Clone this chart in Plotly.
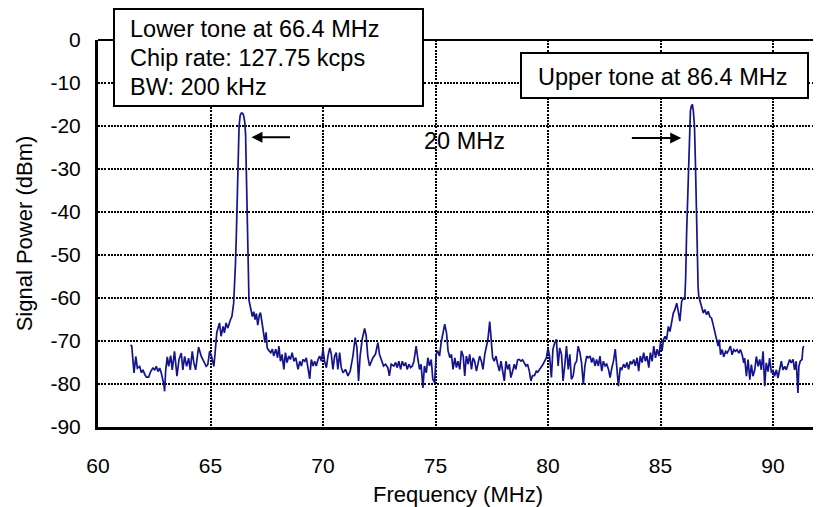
import plotly.graph_objects as go

# ---------------- data ----------------
freq_mhz = [
    61.45, 61.50, 61.60, 61.68, 61.75, 61.85, 61.93, 62.00, 62.08, 62.15,
    62.25, 62.34, 62.44, 62.52, 62.59, 62.67, 62.74, 62.81, 62.93, 62.96,
    63.01, 63.08, 63.14, 63.23, 63.30, 63.40, 63.51, 63.60, 63.70, 63.77,
    63.85, 63.94, 64.03, 64.10, 64.19, 64.26, 64.34, 64.41, 64.47, 64.59,
    64.70, 64.81, 64.88, 64.96, 65.03, 65.15, 65.21, 65.28, 65.40, 65.47,
    65.56, 65.62, 65.69, 65.77, 65.89, 65.95, 66.03,
    66.08, 66.11, 66.15, 66.19, 66.23, 66.27, 66.32, 66.37, 66.42, 66.47,
    66.52, 66.56, 66.59, 66.63, 66.67, 66.71,
    66.75, 66.80, 66.86, 66.92, 66.98, 67.04, 67.10, 67.17, 67.22, 67.27,
    67.34, 67.42, 67.47, 67.52,
    67.61, 67.68, 67.75, 67.81, 67.90, 67.98, 68.04, 68.11, 68.18, 68.26,
    68.33, 68.40, 68.48, 68.55, 68.63, 68.71, 68.79, 68.89, 68.97, 69.04,
    69.11, 69.19, 69.26, 69.34, 69.41, 69.48, 69.56, 69.63, 69.70, 69.78,
    69.85, 69.93, 70.00, 70.07, 70.15, 70.22, 70.30, 70.37, 70.44, 70.52,
    70.59, 70.66, 70.74, 70.81, 70.89, 71.00, 71.11, 71.21, 71.33, 71.43,
    71.51, 71.58, 71.65, 71.74, 71.85, 71.92, 71.99, 72.07, 72.14, 72.22,
    72.33, 72.44, 72.51, 72.58, 72.69, 72.78, 72.88, 72.95, 73.03,
    73.15, 73.23, 73.30, 73.37, 73.45, 73.52, 73.60, 73.67, 73.74, 73.82,
    73.89, 73.97, 74.04, 74.14, 74.22, 74.29, 74.36, 74.44, 74.51, 74.59,
    74.66, 74.73, 74.81, 74.88, 74.96, 75.03, 75.10, 75.18, 75.25, 75.34,
    75.41, 75.49, 75.56, 75.64, 75.71, 75.78, 75.86, 75.93, 76.00, 76.08,
    76.15, 76.23, 76.30, 76.37, 76.45, 76.52, 76.60, 76.67, 76.74, 76.82,
    76.89, 76.96, 77.04, 77.11, 77.19, 77.26, 77.33, 77.41, 77.47, 77.54,
    77.61, 77.69, 77.76, 77.84, 77.91, 77.98, 78.06, 78.13, 78.21, 78.28,
    78.35, 78.43, 78.50, 78.57, 78.65, 78.72, 78.80, 78.87, 78.94, 79.02,
    79.09, 79.17, 79.24, 79.31,
    79.40, 79.48, 79.55, 79.63, 79.70, 79.78, 79.85, 79.93, 80.00, 80.07,
    80.15, 80.22, 80.30, 80.37, 80.45, 80.52, 80.60, 80.67, 80.75, 80.82,
    80.90, 80.97, 81.04, 81.12, 81.19, 81.27, 81.34, 81.42, 81.49, 81.57,
    81.64, 81.72, 81.79, 81.87, 81.94, 82.01, 82.09, 82.16, 82.24, 82.31,
    82.39, 82.46, 82.54, 82.61, 82.69, 82.76, 82.84, 82.91, 82.99, 83.06,
    83.13, 83.21, 83.28, 83.36, 83.43, 83.51, 83.58, 83.66, 83.73, 83.81,
    83.88, 83.96, 84.03, 84.10, 84.18, 84.25, 84.33, 84.40, 84.48, 84.55,
    84.63, 84.70, 84.78, 84.85, 84.93, 85.00, 85.07,
    85.13, 85.20, 85.27, 85.35, 85.42, 85.49, 85.57, 85.64, 85.72, 85.79,
    85.86, 85.94, 86.01, 86.08,
    86.12, 86.16, 86.20, 86.24, 86.29, 86.33, 86.38, 86.42, 86.46, 86.51,
    86.55, 86.59, 86.63, 86.67, 86.70, 86.75,
    86.82, 86.90, 86.97, 87.05, 87.12, 87.19, 87.27, 87.34, 87.42, 87.49,
    87.56, 87.61, 87.67, 87.74, 87.81, 87.89, 87.96, 88.04, 88.11, 88.18,
    88.26, 88.33, 88.40, 88.48, 88.55, 88.63, 88.70, 88.74, 88.82, 88.89,
    88.97, 89.04, 89.11, 89.19, 89.26, 89.34, 89.41, 89.48, 89.56, 89.63,
    89.70, 89.78, 89.85, 89.93, 90.00, 90.07, 90.15, 90.22, 90.30, 90.37,
    90.44, 90.52, 90.59, 90.66, 90.74, 90.81, 90.89, 90.96, 91.03, 91.11,
    91.15, 91.21, 91.29, 91.33, 91.37,
]

power_dbm = [
    -70.9, -71.2, -77.4, -73.6, -76.3, -75.9, -77.4, -76.7, -77.8, -78.4,
    -78.4, -77.1, -76.3, -76.7, -75.9, -77.1, -76.3, -77.4, -80.2, -81.7,
    -76.7, -73.7, -75.9, -73.4, -76.7, -72.4, -78.2, -74.3, -72.8, -76.7,
    -73.6, -75.9, -74.0, -76.7, -72.4, -75.1, -76.7, -74.0, -71.4, -73.6,
    -74.7, -75.9, -75.5, -72.4, -73.2, -75.9, -72.4, -68.0, -65.8, -68.9,
    -66.6, -68.1, -65.8, -67.0, -65.0, -64.3, -61.2,
    -57.0, -52.0, -45.0, -38.0, -28.0, -20.0, -17.5, -17.0, -17.0, -17.5,
    -19.0, -22.0, -30.0, -38.0, -50.0, -60.5,
    -61.5, -63.2, -64.3, -63.2, -65.0, -63.6, -66.3, -64.0, -63.4, -65.0,
    -67.3, -70.4, -68.0, -71.6,
    -72.3, -72.7, -71.9, -73.5, -71.9, -73.9, -71.2, -74.7, -73.1, -76.6,
    -72.7, -75.0, -73.5, -74.3, -72.7, -74.7, -73.9, -76.6, -74.7, -75.8,
    -74.3, -74.7, -73.9, -76.6, -78.8, -74.3, -75.8, -74.7, -75.8, -74.3,
    -73.5, -74.7, -71.9, -74.7, -76.2, -73.5, -71.6, -73.1, -76.6, -73.5,
    -72.7, -76.6, -72.7, -76.2, -77.4, -76.6, -78.1, -77.0, -73.5, -69.2,
    -71.6, -79.3, -73.5, -69.6, -67.1, -68.8, -73.5, -75.8, -75.0, -73.9,
    -73.1, -70.4, -73.1, -74.3, -75.8, -75.4, -76.2, -78.1, -75.4,
    -75.8, -75.0, -76.2, -74.7, -76.6, -74.7, -75.8, -75.0, -76.6, -75.4,
    -76.2, -75.8, -74.7, -71.2, -74.3, -76.6, -75.4, -80.9, -75.8, -77.4,
    -73.9, -75.8, -74.3, -78.9, -79.7, -73.1, -72.3, -73.5, -70.4, -67.7,
    -66.1, -68.1, -72.3, -73.9, -73.1, -76.6, -73.9, -76.2, -74.7, -76.6,
    -72.3, -73.5, -78.1, -73.5, -75.4, -73.1, -76.6, -73.9, -74.7, -77.0,
    -75.4, -73.5, -74.7, -76.6, -73.1, -71.2, -69.6, -65.5, -68.8, -73.9,
    -74.7, -73.5, -75.4, -77.0, -74.7, -77.4, -79.3, -74.7, -76.6, -75.4,
    -78.5, -77.0, -75.4, -76.6, -74.4, -74.3, -74.7, -74.4, -75.0, -75.8,
    -75.4, -77.0, -79.3, -78.1,
    -78.0, -77.0, -77.2, -76.6, -76.2, -75.4, -74.7, -73.9, -71.6, -73.5,
    -78.5, -71.9, -70.4, -69.6, -75.8, -71.6, -73.1, -79.3, -75.4, -71.2,
    -76.6, -73.1, -78.9, -78.1, -75.4, -74.7, -71.2, -72.7, -75.0, -80.1,
    -75.8, -73.5, -73.9, -73.5, -75.0, -73.9, -75.8, -74.3, -75.8, -73.5,
    -77.0, -74.7, -75.8, -75.4, -76.6, -78.5, -76.2, -74.7, -71.9, -75.8,
    -80.5, -76.2, -76.6, -75.4, -76.2, -75.0, -76.6, -74.7, -75.4, -74.3,
    -75.8, -73.9, -77.0, -73.5, -75.0, -72.7, -74.7, -73.5, -76.2, -72.7,
    -74.7, -71.2, -73.9, -71.9, -73.5, -70.4, -72.3,
    -69.7, -68.9, -69.7, -66.6, -67.8, -65.8, -63.5, -62.7, -61.2, -63.1,
    -65.4, -60.8, -60.0, -60.4,
    -55.0, -45.0, -38.0, -28.0, -20.0, -16.5, -15.2, -15.1, -16.5, -20.0,
    -28.0, -40.0, -50.0, -57.3, -59.6, -60.8,
    -61.9, -63.5, -62.7, -63.9, -63.1, -64.3, -64.7, -66.2, -68.1, -69.7,
    -71.2, -69.7, -73.2, -72.0, -73.7, -72.4, -72.8, -72.0, -71.2, -73.2,
    -72.0, -72.4, -72.0, -72.8, -72.0, -73.2, -75.1, -74.0, -78.2, -74.3,
    -79.0, -75.5, -78.2, -76.7, -73.6, -75.9, -74.3, -76.7, -72.4, -80.5,
    -75.1, -77.1, -74.0, -77.4, -76.7, -78.2, -76.7, -78.6, -76.7, -74.7,
    -76.7, -75.9, -76.7, -75.5, -74.3, -75.1, -74.3, -76.7, -74.7, -82.1,
    -75.9, -74.7, -74.3, -71.6, -71.2,
]

x_ticks = [60, 65, 70, 75, 80, 85, 90]
y_ticks = [0, -10, -20, -30, -40, -50, -60, -70, -80, -90]
y_tick_labels = ["0", "-10", "-20", "-30", "-40", "-50", "-60", "-70", "-80", "-90"]

lower_box_lines = ["Lower tone at 66.4 MHz", "Chip rate: 127.75 kcps", "BW: 200 kHz"]
upper_box_text = "Upper tone at 86.4 MHz"
spacing_text = "20 MHz"

FONT = "Liberation Sans, Arial, sans-serif"
NOTE_SIZE = 23.5
AXIS_SIZE = 21
TITLE_SIZE = 22

fig = go.Figure()
fig.add_trace(go.Scatter(
    x=freq_mhz, y=power_dbm, mode="lines",
    line=dict(color="#14148c", width=1.7),
    showlegend=False, hoverinfo="skip",
))

# The page body has an 8px margin, so the figure starts at page (8, 8).
OFF = 8
PAGE_W, PAGE_H = 821, 507
# plot area in page px: left 98, right 818, top 40, bottom 427
L, R, T, B = 98, 818, 40, 427
W, H = R - L, B - T


def px(x):
    return (x - L) / W


def py(y):
    return (B - y) / H


shapes = [
    # top and right frame lines (thinner)
    dict(type="line", xref="paper", yref="paper", x0=0, x1=1, y0=1, y1=1,
         line=dict(color="black", width=2)),
    dict(type="line", xref="paper", yref="paper", x0=1, x1=1, y0=0, y1=1,
         line=dict(color="black", width=2)),
    # text boxes
    dict(type="rect", xref="paper", yref="paper", x0=px(114), x1=px(423),
         y0=py(106), y1=py(OFF + 1), line=dict(color="black", width=2),
         fillcolor="white", layer="above"),
    dict(type="rect", xref="paper", yref="paper", x0=px(521), x1=px(808),
         y0=py(98), y1=py(53), line=dict(color="black", width=2),
         fillcolor="white", layer="above"),
]

annotations = []
for line_txt, ypix in zip(lower_box_lines, [29, 58, 87]):
    annotations.append(dict(
        text=line_txt, xref="paper", yref="paper", x=px(128), y=py(ypix),
        xanchor="left", yanchor="middle", showarrow=False,
        font=dict(family=FONT, size=NOTE_SIZE, color="black"),
    ))
annotations.append(dict(
    text=upper_box_text, xref="paper", yref="paper", x=px(536), y=py(77),
    xanchor="left", yanchor="middle", showarrow=False,
    font=dict(family=FONT, size=NOTE_SIZE, color="black"),
))
annotations.append(dict(
    text=spacing_text, x=76.3, y=-23.4, xref="x", yref="y",
    xanchor="center", yanchor="middle", showarrow=False,
    font=dict(family=FONT, size=NOTE_SIZE, color="black"),
))
# arrows pointing at the two tones
annotations.append(dict(
    text="", x=66.82, y=-22.6, ax=68.6, ay=-22.6, xref="x", yref="y",
    axref="x", ayref="y", showarrow=True, arrowhead=2, arrowsize=1.1,
    arrowwidth=2, arrowcolor="black",
))
annotations.append(dict(
    text="", x=85.92, y=-22.8, ax=83.66, ay=-22.8, xref="x", yref="y",
    axref="x", ayref="y", showarrow=True, arrowhead=2, arrowsize=1.1,
    arrowwidth=2, arrowcolor="black",
))

grid = dict(showgrid=True, gridcolor="black", griddash="2px,1.2px", gridwidth=1.5)

fig.update_layout(
    width=PAGE_W - OFF, height=PAGE_H - OFF,
    margin=dict(l=L - OFF, r=PAGE_W - R, t=T - OFF, b=PAGE_H - B, autoexpand=False),
    paper_bgcolor="white", plot_bgcolor="white",
    font=dict(family=FONT, size=AXIS_SIZE, color="black"),
    shapes=shapes, annotations=annotations,
    xaxis=dict(
        range=[60, 92], tickvals=x_ticks, ticks="", ticklabelstandoff=18,
        showline=True, linecolor="black", linewidth=3, zeroline=False,
        automargin=False,
        title=dict(text="Frequency (MHz)", font=dict(size=TITLE_SIZE), standoff=12),
        tickfont=dict(size=AXIS_SIZE), **grid,
    ),
    yaxis=dict(
        range=[-90, 0], tickvals=y_ticks, ticktext=y_tick_labels, ticks="",
        ticklabelstandoff=10, automargin=False,
        showline=True, linecolor="black", linewidth=3, zeroline=False,
        title=dict(text="Signal Power (dBm)", font=dict(size=TITLE_SIZE), standoff=12),
        tickfont=dict(size=AXIS_SIZE), **grid,
    ),
)

fig.write_html("out.html")
